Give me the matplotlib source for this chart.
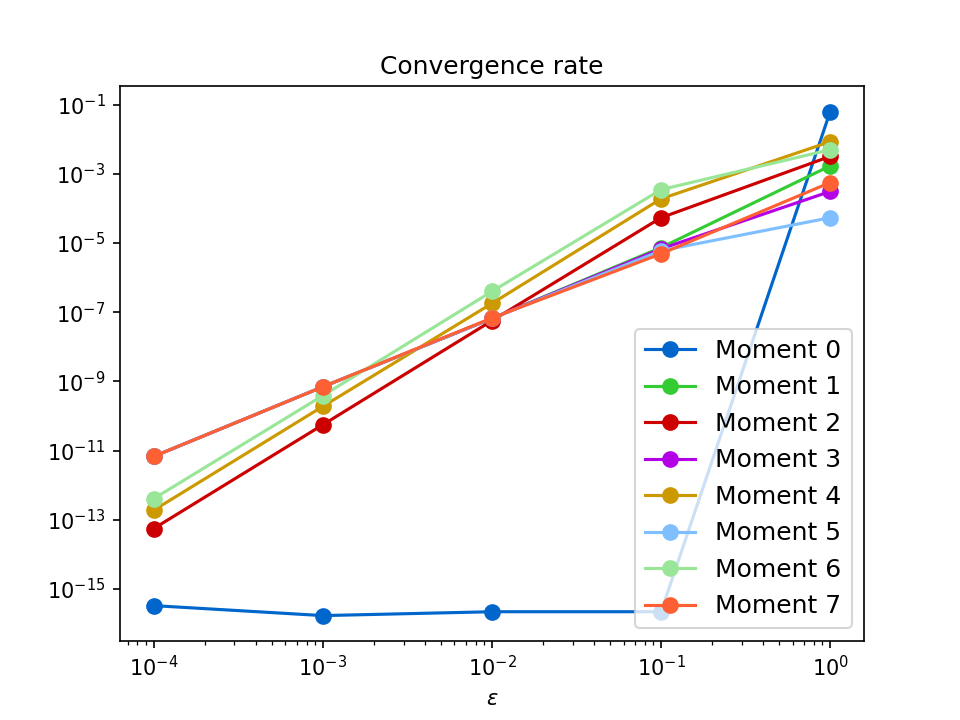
import matplotlib
matplotlib.use("Agg")
import matplotlib.pyplot as plt

# Step sizes
eps = [1e-4, 1e-3, 1e-2, 1e-1, 1e0]

# Errors per moment
moment_0 = [3.3e-16, 1.7e-16, 2.2e-16, 2.2e-16, 6.3e-2]
moment_1 = [6.8e-12, 7.0e-10, 6.6e-8, 7.4e-6, 1.7e-3]
moment_2 = [5.6e-14, 5.6e-11, 5.7e-8, 5.4e-5, 3.2e-3]
moment_3 = [6.8e-12, 7.0e-10, 6.6e-8, 6.8e-6, 3.1e-4]
moment_4 = [1.9e-13, 1.9e-10, 1.8e-7, 1.9e-4, 8.5e-3]
moment_5 = [6.8e-12, 7.0e-10, 6.6e-8, 6.0e-6, 5.4e-5]
moment_6 = [4.1e-13, 3.9e-10, 4.0e-7, 3.5e-4, 5.0e-3]
moment_7 = [6.8e-12, 7.0e-10, 6.8e-8, 4.9e-6, 5.6e-4]

moments = [moment_0, moment_1, moment_2, moment_3,
           moment_4, moment_5, moment_6, moment_7]
labels = ["Moment %d" % i for i in range(8)]
colors = ["#0066cc", "#33cc33", "#cc0000", "#b300e6",
          "#cc9900", "#80bfff", "#99e699", "#ff6033"]

fig = plt.figure(figsize=(6.4, 4.8), dpi=150)
ax = fig.add_subplot(111)

for values, label, color in zip(moments, labels, colors):
    ax.plot(eps, values, "-o", color=color, label=label, markersize=7)

ax.set_xscale("log")
ax.set_yscale("log")
ax.set_title("Convergence rate")
ax.set_xlabel(r"$\varepsilon$")
ax.legend(loc="lower right", fontsize=12)

fig.savefig("out.png")
